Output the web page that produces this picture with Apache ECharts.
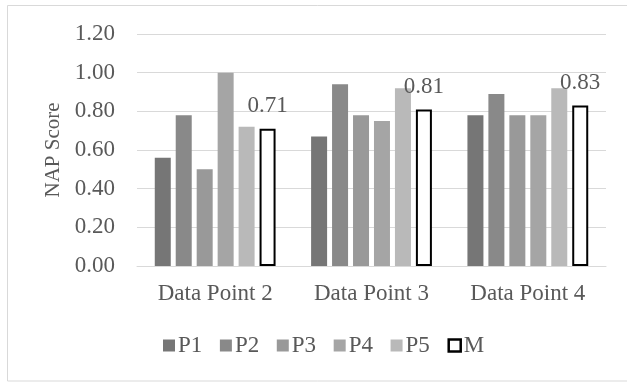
<!DOCTYPE html>
<html>
<head>
<meta charset="utf-8">
<script src="https://cdn.jsdelivr.net/npm/echarts@6/dist/echarts.min.js"></script>
<style>
html,body{margin:0;padding:0;background:#fff;}
#chart{width:627px;height:382px;}
</style>
</head>
<body>
<div id="chart"></div>
<script>
var categories = ['Data Point 2', 'Data Point 3', 'Data Point 4'];
var seriesNames = ['P1', 'P2', 'P3', 'P4', 'P5', 'M'];
var p1 = [0.56, 0.67, 0.78];
var p2 = [0.78, 0.94, 0.89];
var p3 = [0.50, 0.78, 0.78];
var p4 = [1.00, 0.75, 0.78];
var p5 = [0.72, 0.92, 0.92];
var mVals = [0.71, 0.81, 0.83];
var yTicks = [0, 0.2, 0.4, 0.6, 0.8, 1.0, 1.2];

var colors = ['#767676', '#898989', '#999999', '#a5a5a5', '#b9b9b9'];
var font = '"Liberation Serif", "Times New Roman", serif';
var textColor = '#595959';
var dataSets = [p1, p2, p3, p4, p5];

var series = dataSets.map(function (d, i) {
  return {
    name: seriesNames[i],
    type: 'bar',
    data: d,
    barWidth: 16,
    barGap: '31%',
    itemStyle: { color: colors[i] }
  };
});
series.push({
  name: 'M',
  type: 'bar',
  data: mVals,
  barWidth: 16,
  barGap: '31%',
  itemStyle: { color: '#ffffff', borderColor: '#000000', borderWidth: 2 },
  label: {
    show: true,
    position: 'top',
    distance: 11,
    color: textColor,
    fontFamily: font,
    fontSize: 23,
    formatter: function (p) { return p.value.toFixed(2); }
  }
});

var chart = echarts.init(document.getElementById('chart'), null, { renderer: 'canvas' });
chart.setOption({
  animation: false,
  backgroundColor: '#ffffff',
  graphic: [{
    type: 'rect',
    shape: { x: 7.5, y: 5.5, width: 640, height: 375.5 },
    style: { fill: 'none', stroke: '#d9d9d9', lineWidth: 1 },
    silent: true
  }],
  grid: { left: 137, right: 21, top: 34, bottom: 116 },
  legend: {
    data: seriesNames.map(function (n, i) {
      if (n === 'M') {
        return { name: n, icon: 'rect', itemStyle: { color: '#ffffff', borderColor: '#000000', borderWidth: 2.5 } };
      }
      return { name: n, icon: 'rect' };
    }),
    left: 158,
    top: 329,
    itemWidth: 12,
    itemHeight: 12,
    itemGap: 17.6,
    textStyle: { color: textColor, fontFamily: font, fontSize: 23, padding: [0, 0, 0, -2] }
  },
  xAxis: {
    type: 'category',
    data: categories,
    axisLine: { lineStyle: { color: '#d9d9d9', width: 1 } },
    axisTick: { show: false },
    axisLabel: { color: textColor, fontFamily: font, fontSize: 23, margin: 16 }
  },
  yAxis: {
    type: 'value',
    min: yTicks[0],
    max: yTicks[yTicks.length - 1],
    interval: 0.2,
    name: 'NAP Score',
    nameLocation: 'middle',
    nameRotate: 90,
    nameGap: 72,
    nameTextStyle: { color: textColor, fontFamily: font, fontSize: 21 },
    axisLine: { show: false },
    axisTick: { show: false },
    splitLine: { lineStyle: { color: '#d9d9d9', width: 1 } },
    axisLabel: {
      color: textColor, fontFamily: font, fontSize: 23, margin: 22,
      formatter: function (v) { return v.toFixed(2); }
    }
  },
  series: series
});
</script>
</body>
</html>
